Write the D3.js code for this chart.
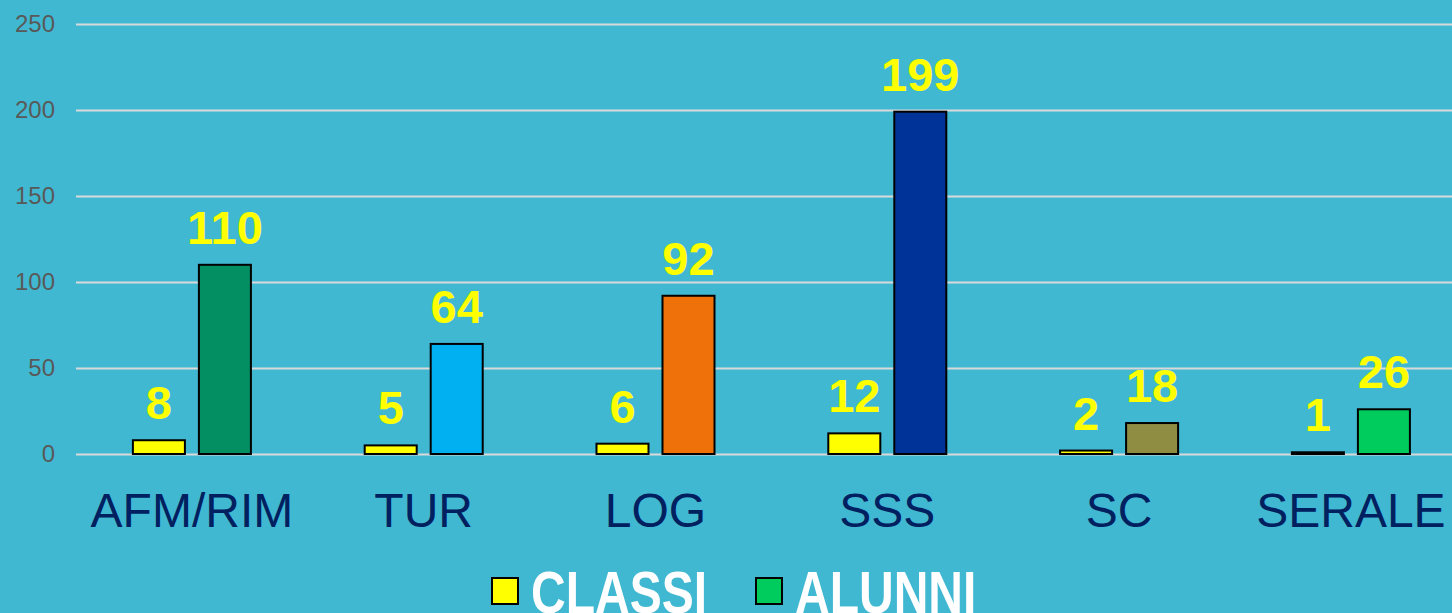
<!DOCTYPE html>
<html>
<head>
<meta charset="utf-8">
<script src="https://cdn.jsdelivr.net/npm/d3@7"></script>
<style>
  body { margin: 0; background: #41b8d2; }
  svg { display: block; font-family: "Liberation Sans", Arial, sans-serif; }
</style>
</head>
<body>
<div id="chart"></div>
<script>
// chart data
var categories = ["AFM/RIM", "TUR", "LOG", "SSS", "SC", "SERALE"];
var series = ["CLASSI", "ALUNNI"];
var classi = [8, 5, 6, 12, 2, 1];
var alunni = [110, 64, 92, 199, 18, 26];
var yTicks = [0, 50, 100, 150, 200, 250];

// colours
var classiColor = "#ffff00";
var alunniColors = ["#038f62", "#00b0f0", "#ee7109", "#003398", "#8f8d42", "#00cc5d"];
var legendColors = ["#ffff00", "#00cc5d"];

var W = 1452, H = 613;
var left = 76, bandStep = 231.8;

var svg = d3.select("#chart")
  .append("svg")
    .attr("width", W)
    .attr("height", H);

svg.append("rect")
  .attr("width", W).attr("height", H)
  .attr("fill", "#41b8d2");

// scales
var x0 = d3.scaleBand()
  .domain(categories)
  .range([left, left + bandStep * categories.length])
  .paddingInner(0)
  .paddingOuter(0);

var x1 = d3.scaleBand()
  .domain(series)
  .range([0, x0.bandwidth()])
  .paddingInner(0.212)
  .paddingOuter(0.862);

var y = d3.scaleLinear()
  .domain([0, 250])
  .range([454, 24]);

// gridlines + y axis
var yAxis = svg.append("g")
  .attr("transform", "translate(" + left + ",0)")
  .call(d3.axisLeft(y).tickValues(yTicks).tickSize(-(W - left)).tickPadding(21));
yAxis.select(".domain").remove();
yAxis.selectAll(".tick line")
  .attr("stroke", "#d9d9d9")
  .attr("stroke-width", 2);
yAxis.selectAll(".tick text")
  .attr("fill", "#595959")
  .style("font-size", "24px")
  .style("font-family", "Liberation Sans, Arial, sans-serif");

// build rows
var rows = categories.map(function(c, i) {
  return [
    {cat: c, s: "CLASSI", v: classi[i], color: classiColor},
    {cat: c, s: "ALUNNI", v: alunni[i], color: alunniColors[i]}
  ];
});
var flat = [].concat.apply([], rows);

// bars
svg.append("g")
  .selectAll("rect")
  .data(flat)
  .enter()
  .append("rect")
    .attr("x", d => x0(d.cat) + x1(d.s))
    .attr("y", d => y(d.v))
    .attr("width", x1.bandwidth())
    .attr("height", d => y(0) - y(d.v))
    .attr("fill", d => d.color)
    .attr("stroke", "#000")
    .attr("stroke-width", 2);

// value labels
svg.append("g")
  .selectAll("text")
  .data(flat)
  .enter()
  .append("text")
    .attr("x", d => x0(d.cat) + x1(d.s) + x1.bandwidth() / 2)
    .attr("y", d => y(d.v) - 21)
    .attr("text-anchor", "middle")
    .attr("fill", "#ffff00")
    .style("font-size", "47px")
    .style("font-weight", "bold")
    .text(d => d.v);

// category labels
svg.append("g")
  .selectAll("text")
  .data(categories)
  .enter()
  .append("text")
    .attr("x", d => x0(d) + x0.bandwidth() / 2)
    .attr("y", 527)
    .attr("text-anchor", "middle")
    .attr("fill", "#002060")
    .style("font-size", "48px")
    .text(d => d);

// legend (text is stretched vertically in the original)
var legend = svg.append("g");
var legendX = [492, 756];
series.forEach(function(s, i) {
  legend.append("rect")
    .attr("x", legendX[i])
    .attr("y", 578)
    .attr("width", 26)
    .attr("height", 26)
    .attr("fill", legendColors[i])
    .attr("stroke", "#000")
    .attr("stroke-width", 2);
  legend.append("text")
    .attr("transform", "translate(" + (legendX[i] + 39) + ",613) scale(1,1.25)")
    .attr("fill", "#fff")
    .style("font-size", "48px")
    .style("font-weight", "bold")
    .text(s);
});
</script>
</body>
</html>
